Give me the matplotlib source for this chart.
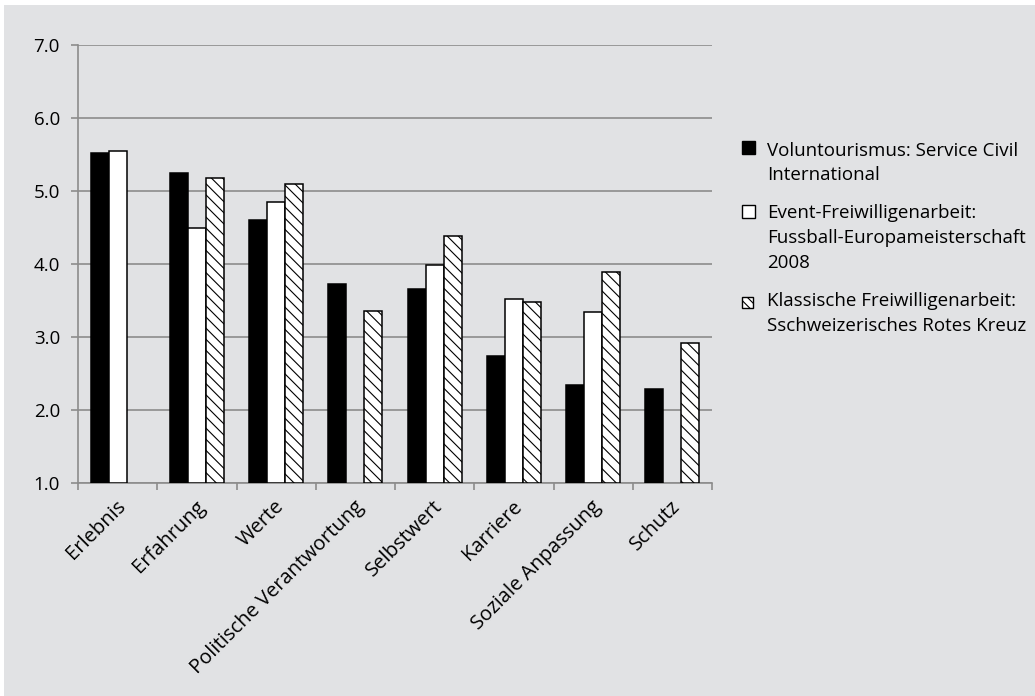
import numpy as np
import matplotlib
matplotlib.use("Agg")
import matplotlib.pyplot as plt
from matplotlib.patches import Rectangle
from matplotlib.transforms import ScaledTranslation

plt.rcParams['font.family'] = ['Open Sans', 'DejaVu Sans']
plt.rcParams['hatch.linewidth'] = 0.8

categories = ["Erlebnis", "Erfahrung", "Werte", "Politische Verantwortung",
              "Selbstwert", "Karriere", "Soziale Anpassung", "Schutz"]
series_names = ["Voluntourismus: Service Civil\nInternational",
                "Event-Freiwilligenarbeit:\nFussball-Europameisterschaft\n2008",
                "Klassische Freiwilligenarbeit:\nSschweizerisches Rotes Kreuz"]
voluntourismus = [5.52, 5.25, 4.60, 3.72, 3.65, 2.73, 2.34, 2.28]
event = [5.54, 4.49, 4.85, np.nan, 3.99, 3.52, 3.34, np.nan]
klassisch = [np.nan, 5.18, 5.10, 3.35, 4.38, 3.48, 3.89, 2.92]
yticks = [1.0, 2.0, 3.0, 4.0, 5.0, 6.0, 7.0]

BG = '#e1e2e4'
GRID = '#8c8c8c'
FS = 13.5
W, H = 1035, 696
fig = plt.figure(figsize=(W / 100, H / 100), dpi=100, facecolor='white')
fig.add_artist(Rectangle((4 / W, 0), 1, 1 - 5 / H, transform=fig.transFigure,
                         facecolor=BG, edgecolor='none', zorder=-10))

ax = fig.add_axes([78 / W, 1 - 482.6 / H, (712 - 78) / W, (482.6 - 45) / H])
ax.set_facecolor('none')

x = np.arange(len(categories))
bw = 0.227
styles = [dict(facecolor='black', hatch=None),
          dict(facecolor='white', hatch=None),
          dict(facecolor='white', hatch='\\\\\\')]
for i, vals in enumerate([voluntourismus, event, klassisch]):
    vals = np.array(vals, dtype=float)
    m = ~np.isnan(vals)
    ax.bar(x[m] + (i - 1) * bw, vals[m] - 1.0, bottom=1.0, width=bw,
           facecolor=styles[i]['facecolor'], hatch=styles[i]['hatch'],
           edgecolor='black', linewidth=1.1, zorder=3)

ax.set_ylim(1.0, 7.0)
ax.set_xlim(-0.5, len(categories) - 0.5)
ax.set_yticks(yticks)
ax.set_yticklabels([f"{v:.1f}" for v in yticks], fontsize=FS)
ax.yaxis.grid(True, color=GRID, linewidth=1.2, zorder=0)
ax.set_axisbelow(True)
for s in ['top', 'right']:
    ax.spines[s].set_visible(False)
for s in ['left', 'bottom']:
    ax.spines[s].set_color(GRID)
    ax.spines[s].set_linewidth(1.2)
ax.tick_params(axis='y', length=5, width=1.2, color=GRID, pad=8)

ax.set_xticks(np.arange(len(categories) + 1) - 0.5)
ax.set_xticklabels([])
ax.tick_params(axis='x', which='major', length=5, width=1.2, color=GRID)
ax.set_xticks(x, minor=True)
labels = ax.set_xticklabels(categories, minor=True, rotation=45, ha='right', va='top',
                            rotation_mode='anchor', fontsize=14.5)
ax.tick_params(axis='x', which='minor', length=0, pad=10)
off = ScaledTranslation(-2 / 100, 0, fig.dpi_scale_trans)
for lab in labels:
    lab.set_transform(lab.get_transform() + off)

# legend
baselines = [[156, 180], [218, 243, 268], [306, 331]]
squares = [(147, 13, 'black', None), (211.5, 13, 'white', None),
           (302, 11, 'white', '\\\\\\\\')]
for (yc, sz, fc, hatch), name, bls in zip(squares, series_names, baselines):
    fig.add_artist(Rectangle((742 / W, 1 - (yc + sz / 2) / H), sz / W, sz / H,
                             transform=fig.transFigure, facecolor=fc, hatch=hatch,
                             edgecolor='black', linewidth=1.0))
    for line, bl in zip(name.split('\n'), bls):
        fig.text(767 / W, 1 - bl / H, line, fontsize=FS, va='baseline', ha='left')

fig.savefig("out.png", dpi=100, facecolor='white')
